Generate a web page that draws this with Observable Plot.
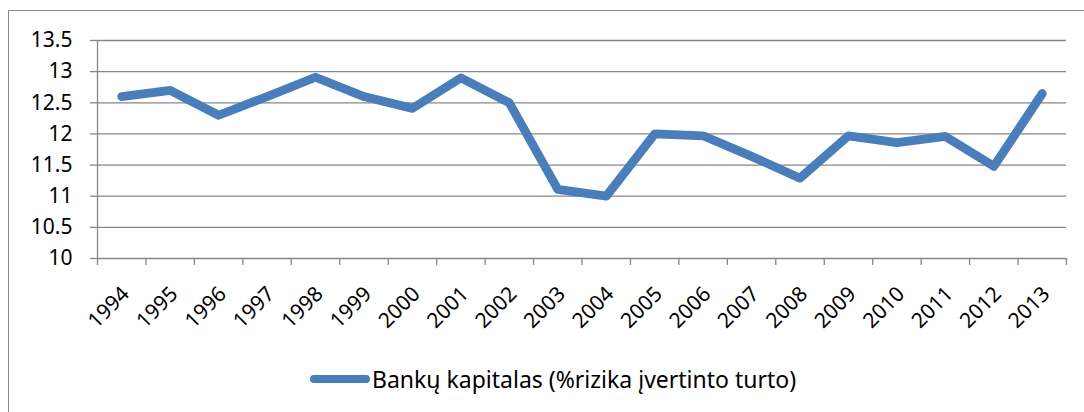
<!DOCTYPE html>
<html>
<head>
<meta charset="utf-8">
<script src="https://cdn.jsdelivr.net/npm/d3@7"></script>
<script src="https://cdn.jsdelivr.net/npm/@observablehq/plot@0.6"></script>
<style>
  body { margin: 0; background: #fff; }
  #wrap { position: relative; width: 1084px; height: 412px; overflow: hidden; font-family: "Noto Sans", "Open Sans", sans-serif; background: #fff; }
  #frame { position: absolute; left: 8px; top: 10px; width: 1200px; height: 600px; border: 1px solid #898989; box-sizing: border-box; }
  #chart { position: absolute; left: 0; top: 0; }
  #legend { position: absolute; left: 0; top: 365px; height: 28px; display: flex; align-items: center; font-size: 23px; color: #000; white-space: nowrap; }
  #legend .sw { display: inline-block; width: 60px; height: 8px; border-radius: 4px; margin-left: 310px; margin-right: 2px; }
</style>
</head>
<body>
<div id="wrap">
  <div id="frame"></div>
  <div id="chart"></div>
  <div id="legend"><span class="sw"></span><span class="lab"></span></div>
</div>
<script>
const years = [1994, 1995, 1996, 1997, 1998, 1999, 2000, 2001, 2002, 2003, 2004, 2005, 2006, 2007, 2008, 2009, 2010, 2011, 2012, 2013];
const values = [12.6, 12.7, 12.3, 12.6, 12.91, 12.6, 12.41, 12.9, 12.5, 11.11, 11.0, 12.0, 11.97, 11.64, 11.29, 11.97, 11.86, 11.96, 11.48, 12.65];
const yTicks = [10, 10.5, 11, 11.5, 12, 12.5, 13, 13.5];
const seriesName = "Bankų kapitalas (%rizika įvertinto turto)";
const lineColor = "#4a7ebb";
const gridColor = "#868686";

const data = years.map((year, i) => ({ year, value: values[i] }));
const boundaries = d3.range(years[0] - 0.5, years[years.length - 1] + 1, 1);

const plot = Plot.plot({
  width: 1084,
  height: 345,
  marginLeft: 97,
  marginRight: 18,
  marginTop: 40,
  marginBottom: 87,
  style: { fontFamily: '"Noto Sans", "Open Sans", sans-serif', color: "#000", background: "transparent", overflow: "visible" },
  x: { type: "linear", domain: [boundaries[0], boundaries[boundaries.length - 1]], axis: null, label: null },
  y: { domain: [yTicks[0], yTicks[yTicks.length - 1]], axis: null, label: null },
  marks: [
    Plot.ruleY(yTicks, { stroke: gridColor, strokeWidth: 1.3 }),
    Plot.ruleX([boundaries[0]], { stroke: gridColor, strokeWidth: 1.3 }),
    Plot.axisY({ ticks: yTicks, label: null, tickSize: 7, tickPadding: 18, stroke: gridColor, strokeWidth: 1.3, strokeOpacity: 1, fontSize: 21, tickFormat: d => String(d), fill: "#000" }),
    Plot.axisX({ ticks: boundaries, label: null, tickSize: 7, stroke: gridColor, strokeWidth: 1.3, strokeOpacity: 1, tickFormat: () => "" }),
    Plot.axisX({ ticks: years, label: null, tickSize: 0, tickPadding: 32, tickRotate: -45, textAnchor: "end", fontSize: 21, dx: 4, tickFormat: d => String(d), fill: "#000" }),
    Plot.line(data, { x: "year", y: "value", stroke: lineColor, strokeWidth: 8.8, strokeLinecap: "round", strokeLinejoin: "round" })
  ]
});
document.getElementById("chart").appendChild(plot);
document.querySelector("#legend .sw").style.background = lineColor;
document.querySelector("#legend .lab").textContent = seriesName;
</script>
</body>
</html>
